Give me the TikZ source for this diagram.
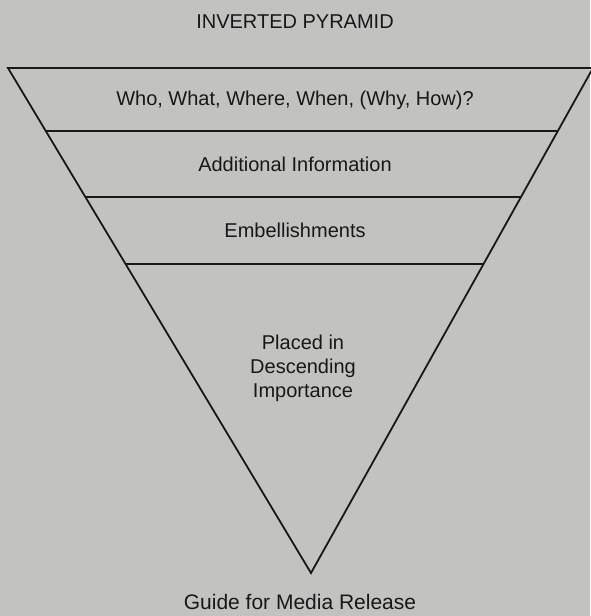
\documentclass[tikz,border=0pt]{standalone}
\usepackage{fontspec}
\setmainfont{Liberation Sans}
\definecolor{bg}{RGB}{194,194,193}
\definecolor{ink}{RGB}{24,24,24}
\begin{document}
\begin{tikzpicture}[x=1pt,y=-1pt,
  txt/.style={text=ink,font=\fontsize{20}{24}\selectfont,inner sep=0pt},
  edge/.style={draw=ink,line width=1.8pt,line join=miter}]
\fill[bg] (0,0) rectangle (590,616);
\useasboundingbox (0,0) rectangle (590,616);
\coordinate (tl) at (8,68);
\coordinate (tr) at (593,68);
\coordinate (ap) at (311,573);
\draw[edge] (tl) -- (tr) -- (ap) -- cycle;
\path (tl) -- (ap) coordinate[pos=0.1245] (l1) coordinate[pos=0.2549] (l2) coordinate[pos=0.3874] (l3);
\path (tr) -- (ap) coordinate[pos=0.1245] (r1) coordinate[pos=0.2549] (r2) coordinate[pos=0.3874] (r3);
\draw[edge] (l1) -- (r1);
\draw[edge] (l2) -- (r2);
\draw[edge] (l3) -- (r3);
\node[txt] (title) at (295,22) {INVERTED PYRAMID};
\node[txt] (t1) at (295,100) {Who, What, Where, When, (Why, How)?};
\node[txt] (t2) at (295,164) {Additional Information};
\node[txt] (t3) at (295,230) {Embellishments};
\node[txt,align=center] (t4) at (303,368) {Placed in\\Descending\\Importance};
\node[txt,font=\fontsize{21}{25}\selectfont] (guide) at (300,602) {Guide for Media Release};
\end{tikzpicture}
\end{document}
